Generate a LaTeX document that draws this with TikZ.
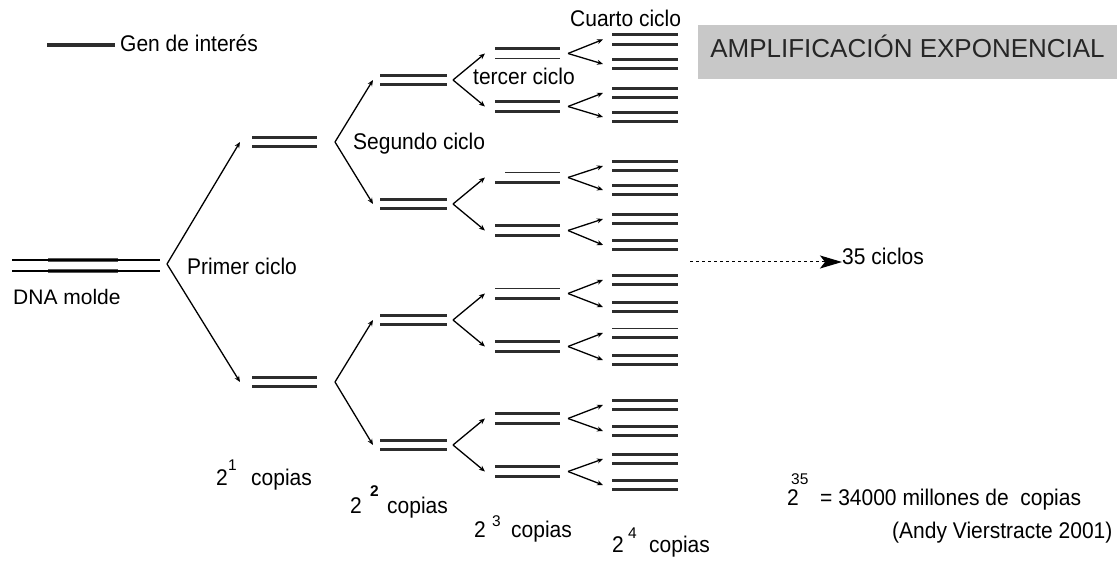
\documentclass[tikz,border=0pt]{standalone}
\usepackage{fontspec}
\usepackage{graphicx}
\setmainfont{Liberation Sans}
\usetikzlibrary{arrows.meta}
\definecolor{boxgray}{RGB}{200,200,200}
\definecolor{strandcol}{RGB}{45,45,45}
\newcommand\grow[7]{%
  \coordinate (#2-tip) at (#6,#5);
  \coordinate (#2-v) at (#7,#5);
  \draw[strand] (#3,{#5-4.8}) -- (#4,{#5-4.8});
  \draw[strand] (#3,{#5+4.8}) -- (#4,{#5+4.8});
  \draw[branch] (#1) -- (#2-tip);
}
\newcommand\thinover[3]{% x left, x right, y
  \draw[white,line width=3.6pt] (495,#3) -- (#2,#3);
  \draw[thinstrand] (#1,#3) -- (#2,#3);
}
\newcommand\tallt[1]{\scalebox{1}[1.08]{#1}}
\begin{document}
\begin{tikzpicture}[x=1pt,y=-1pt,
  strand/.style={line width=3.3pt,draw=strandcol},
  thinstrand/.style={line width=1.3pt,draw=strandcol},
  dnathin/.style={line width=1.1pt,draw=black},
  dnathick/.style={line width=4pt,draw=black!65},
  branch/.style={line width=1.3pt,draw=black,-{Stealth[length=6pt,width=5pt]}},
  lbl/.style={anchor=base west,inner sep=0pt,font=\fontsize{21}{25}\selectfont},
  suplbl/.style={anchor=base west,inner sep=0pt,font=\fontsize{15.5}{18}\selectfont},
  dotarrow/.style={line width=1pt,dash pattern=on 3pt off 3pt,-{Stealth[length=22pt,width=13pt,inset=5pt]}}]
\fill[white] (0,0) rectangle (1120,569);
\useasboundingbox (0,0) rectangle (1120,569);

% legend
\coordinate (leg1) at (47,45);
\coordinate (leg2) at (115,45);
\draw[strand] (leg1) -- (leg2);
\node[lbl] (legtxt) at (120,52) {\tallt{Gen de interés}};

% template DNA
\coordinate (m1a) at (12,260); \coordinate (m1b) at (160,260);
\coordinate (m2a) at (12,271); \coordinate (m2b) at (160,271);
\coordinate (g1a) at (48,260); \coordinate (g1b) at (118,260);
\coordinate (g2a) at (48,271); \coordinate (g2b) at (118,271);
\draw[dnathick] (g1a) -- (g1b);
\draw[dnathick] (g2a) -- (g2b);
\draw[dnathin] (m1a) -- (m1b);
\draw[dnathin] (m2a) -- (m2b);
\coordinate (v0) at (167,264);
\node[lbl] (molde) at (13,305) {DNA molde};

% cycle 1
\grow{v0}{a1}{252}{317}{142}{240}{335}
\grow{v0}{a2}{252}{317}{382}{240}{335}
% cycle 2
\foreach \p/\y [count=\k] in {a1/80,a1/204,a2/320,a2/445}{
  \grow{\p-v}{b\k}{380}{447}{\y}{373}{453}
}
% cycle 3
\foreach \p/\y [count=\k] in {b1/53.5,b1/106.5,b2/177.5,b2/230.5,b3/293.5,b3/346.5,b4/418.5,b4/471.5}{
  \grow{\p-v}{c\k}{495}{560}{\y}{485}{568}
}
% cycle 4
\foreach \p/\y [count=\k] in {c1/39.5,c1/64,c2/93,c2/117,c3/166,c3/190,c4/219,c4/245,c5/280,c5/307,c6/333,c6/360,c7/405,c7/431,c8/459,c8/485}{
  \grow{\p-v}{d\k}{612}{678}{\y}{603}{686}
}
% newly made (thin) strands
\thinover{495}{560}{58.3}
\thinover{505}{560}{172.7}
\thinover{495}{560}{288.7}
\draw[white,line width=3.6pt] (612,328.2) -- (678,328.2);
\draw[thinstrand] (612,328.2) -- (678,328.2);

% cycle labels
\node[lbl] (c1lbl) at (187,275) {\tallt{Primer ciclo}};
\node[lbl] (c2lbl) at (353,150) {\tallt{Segundo ciclo}};
\node[lbl] (c3lbl) at (473,85) {\tallt{tercer ciclo}};
\node[lbl] (c4lbl) at (570,27) {\tallt{Cuarto ciclo}};

% title box
\node[fill=boxgray,minimum width=419pt,minimum height=54pt,inner sep=0pt,
      text height=12pt,text depth=0pt,text=black!85,font=\fontsize{26}{30}\selectfont]
      (title) at (907.5,52) {AMPLIFICACIÓN EXPONENCIAL};

% 35 cycles
\node[lbl] (ciclos) at (842,265) {\tallt{35 ciclos}};
\coordinate (dots) at (690,262);
\draw[dotarrow] (dots) -- (ciclos.west |- dots);

% copies
\node[lbl] (p1a) at (216,485) {\tallt{2}};
\node[suplbl] (p1b) at (228,470) {1};
\node[lbl] (p1c) at (251,485) {\tallt{copias}};
\node[lbl] (p2a) at (350,513) {\tallt{2}};
\node[suplbl,font=\fontsize{15.5}{18}\selectfont\bfseries] (p2b) at (370,496) {2};
\node[lbl] (p2c) at (387,513) {\tallt{copias}};
\node[lbl] (p3a) at (474,537) {\tallt{2}};
\node[suplbl] (p3b) at (492,526) {3};
\node[lbl] (p3c) at (511,537) {\tallt{copias}};
\node[lbl] (p4a) at (612,552) {\tallt{2}};
\node[suplbl] (p4b) at (628,538) {4};
\node[lbl] (p4c) at (649,552) {\tallt{copias}};
\node[lbl] (p35a) at (787,505) {\tallt{2}};
\node[suplbl] (p35b) at (791,484) {35};
\node[lbl] (p35c) at (820,505) {\tallt{= 34000 millones de\ \ copias}};
\node[lbl] (author) at (892,538) {\tallt{(Andy Vierstracte 2001)}};
\end{tikzpicture}
\end{document}
